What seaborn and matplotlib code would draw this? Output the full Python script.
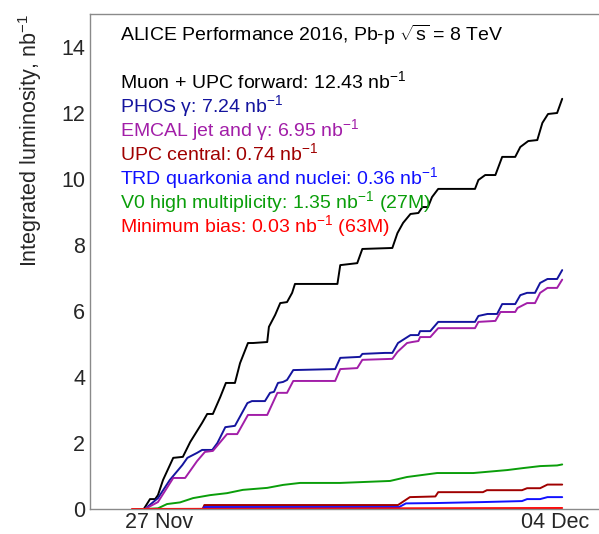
import pandas as pd
import matplotlib
matplotlib.use("Agg")
import matplotlib.pyplot as plt
import matplotlib.dates as mdates
from matplotlib.ticker import MultipleLocator
import seaborn as sns

# start of the x axis (27 Nov 2016, 00:00); times below are in days after it
start = pd.Timestamp("2016-11-27")

# Muon + UPC forward
muon_days = [-0.27, -0.16, -0.07, -0.02, 0.07, 0.25, 0.42, 0.55, 0.76, 0.85, 0.95, 1.08, 1.18,
             1.34, 1.43, 1.57, 1.66, 1.91, 1.94, 2.05, 2.14, 2.26, 2.35, 2.40, 3.15, 3.20, 3.50,
             3.59, 4.12, 4.21, 4.31, 4.44, 4.58, 4.65, 4.75, 4.82, 4.93, 5.58, 5.64, 5.76, 5.94,
             6.06, 6.29, 6.38, 6.52, 6.68, 6.77, 6.87, 7.03, 7.12]
muon_lumi = [0.00, 0.30, 0.30, 0.42, 0.88, 1.55, 1.58, 2.03, 2.61, 2.88, 2.88, 3.39, 3.82,
             3.82, 4.42, 5.03, 5.03, 5.06, 5.52, 5.88, 6.24, 6.27, 6.55, 6.82, 6.82, 7.39, 7.45,
             7.88, 7.91, 8.36, 8.67, 8.94, 8.97, 9.15, 9.15, 9.45, 9.70, 9.70, 9.97, 10.12, 10.12,
             10.67, 10.67, 10.97, 11.15, 11.18, 11.70, 11.97, 12.00, 12.43]

# PHOS gamma
phos_days = [-0.25, -0.02, 0.19, 0.41, 0.50, 0.67, 0.76, 0.94, 1.03, 1.17, 1.34, 1.56, 1.64,
             1.87, 1.96, 2.03, 2.10, 2.19, 2.26, 2.37, 3.11, 3.20, 3.55, 3.59, 3.99, 4.12, 4.22,
             4.44, 4.58, 4.61, 4.79, 4.93, 5.58, 5.64, 5.80, 5.97, 6.06, 6.29, 6.38, 6.50, 6.64,
             6.73, 6.86, 7.03, 7.12]
phos_lumi = [0.00, 0.33, 0.88, 1.33, 1.55, 1.70, 1.79, 1.79, 2.00, 2.48, 2.52, 3.21, 3.27,
             3.27, 3.52, 3.55, 3.82, 3.85, 3.91, 4.21, 4.24, 4.58, 4.61, 4.70, 4.73, 4.73, 5.03,
             5.27, 5.27, 5.39, 5.39, 5.67, 5.67, 5.85, 5.91, 5.91, 6.21, 6.21, 6.48, 6.55, 6.55,
             6.85, 6.97, 6.97, 7.24]

# EMCAL jet and gamma
emcal_days = [-0.25, -0.02, 0.25, 0.46, 0.67, 0.81, 0.95, 1.20, 1.38, 1.57, 1.91, 2.09, 2.26,
              2.37, 3.11, 3.20, 3.50, 3.59, 4.12, 4.21, 4.38, 4.47, 4.58, 4.61, 4.79, 4.93, 5.58,
              5.64, 5.94, 6.03, 6.29, 6.33, 6.50, 6.64, 6.73, 6.86, 7.03, 7.12]
emcal_lumi = [0.00, 0.21, 0.94, 0.94, 1.45, 1.73, 1.76, 2.27, 2.27, 2.85, 2.85, 3.52, 3.52,
              3.88, 3.88, 4.24, 4.27, 4.52, 4.55, 4.76, 5.03, 5.06, 5.09, 5.21, 5.21, 5.48, 5.48,
              5.67, 5.70, 5.97, 5.97, 6.09, 6.24, 6.24, 6.55, 6.70, 6.70, 6.95]

# UPC central
upc_days = [-0.25, 0.77, 0.80, 4.22, 4.43, 4.88, 4.93, 5.72, 5.79, 6.41, 6.50, 6.73, 6.86, 7.12]
upc_lumi = [0.00, 0.00, 0.12, 0.12, 0.36, 0.38, 0.51, 0.51, 0.57, 0.57, 0.63, 0.63, 0.74, 0.74]

# TRD quarkonia and nuclei
trd_days = [-0.25, 0.77, 0.80, 4.24, 4.36, 4.88, 5.72, 6.41, 6.50, 6.73, 6.86, 7.12]
trd_lumi = [0.00, 0.00, 0.06, 0.06, 0.17, 0.18, 0.21, 0.24, 0.30, 0.30, 0.36, 0.36]

# V0 high multiplicity
v0_days = [-0.25, -0.02, 0.14, 0.37, 0.60, 0.90, 1.20, 1.48, 1.91, 2.19, 2.49, 3.20, 4.08,
           4.38, 4.91, 5.55, 6.15, 6.43, 6.73, 7.03, 7.12]
v0_lumi = [0.00, 0.02, 0.15, 0.20, 0.33, 0.42, 0.48, 0.58, 0.64, 0.73, 0.79, 0.79, 0.85,
           0.97, 1.09, 1.09, 1.18, 1.24, 1.30, 1.32, 1.35]

# Minimum bias
mb_days = [-0.48, 2.0, 4.0, 7.12]
mb_lumi = [0.00, 0.01, 0.02, 0.03]

triggers = ["Muon + UPC forward", "PHOS", "EMCAL", "UPC central", "TRD", "V0 HM", "Minimum bias"]
labels = [
    "Muon + UPC forward: 12.43 nb$^{-1}$",
    "PHOS γ: 7.24 nb$^{-1}$",
    "EMCAL jet and γ: 6.95 nb$^{-1}$",
    "UPC central: 0.74 nb$^{-1}$",
    "TRD quarkonia and nuclei: 0.36 nb$^{-1}$",
    "V0 high multiplicity: 1.35 nb$^{-1}$ (27M)",
    "Minimum bias: 0.03 nb$^{-1}$ (63M)",
]
colors = ["#000000", "#14149e", "#a21ea8", "#a00000", "#1010ff", "#0a9e0a", "#ff0000"]

series = [(muon_days, muon_lumi), (phos_days, phos_lumi), (emcal_days, emcal_lumi),
          (upc_days, upc_lumi), (trd_days, trd_lumi), (v0_days, v0_lumi), (mb_days, mb_lumi)]

frames = []
for name, (d, l) in zip(triggers, series):
    frames.append(pd.DataFrame({
        "time": start + pd.to_timedelta(d, unit="D"),
        "lumi": l,
        "trigger": name,
    }))
df = pd.concat(frames, ignore_index=True)

sns.set_style("white")
plt.rcParams["font.family"] = ["Liberation Sans", "DejaVu Sans"]
plt.rcParams["mathtext.fontset"] = "custom"
plt.rcParams["mathtext.rm"] = "Liberation Sans"
plt.rcParams["mathtext.it"] = "Liberation Sans:italic"
plt.rcParams["mathtext.bf"] = "Liberation Sans:bold"

fig = plt.figure(figsize=(5.99, 5.34), dpi=100)
ax = fig.add_axes([90 / 599, 25 / 534, 509 / 599, 495 / 534])

sns.lineplot(data=df, x="time", y="lumi", hue="trigger", hue_order=triggers,
             palette=dict(zip(triggers, colors)), estimator=None, sort=False,
             linewidth=1.4, legend=False, ax=ax)

ax.set_xlim(start + pd.Timedelta(days=-1.22), start + pd.Timedelta(days=7.77))
ax.set_ylim(0, 15)

axis_grey = "#8a8a8a"
for side in ["left", "bottom", "top"]:
    ax.spines[side].set_color(axis_grey)
    ax.spines[side].set_linewidth(1.0)
ax.spines["right"].set_visible(False)

ax.yaxis.set_major_locator(MultipleLocator(2))
ax.yaxis.set_minor_locator(MultipleLocator(0.5))
ax.tick_params(axis="y", which="major", direction="in", length=12, width=1.0,
               color=axis_grey, labelsize=15.5, pad=3.5)
ax.tick_params(axis="y", which="minor", direction="in", length=6, width=1.0, color=axis_grey)

ax.set_xticks([start, start + pd.Timedelta(days=7)])
ax.xaxis.set_major_formatter(mdates.DateFormatter("%d %b"))
ax.tick_params(axis="x", which="major", direction="in", length=7, width=1.0,
               color=axis_grey, labelsize=15.5, pad=2)
ax.tick_params(axis="x", which="minor", length=0)

ax.set_xlabel("")
ax.set_ylabel("Integrated luminosity, nb$^{-1}$", fontsize=15.5, loc="top")
ax.yaxis.set_label_coords(-0.090, 1.0)

ax.text(0.059, 0.9455, r"ALICE Performance 2016, Pb-p $\sqrt{\mathrm{s}}$ = 8 TeV",
        transform=ax.transAxes, fontsize=14, color="black")
label_y = [0.8505, 0.802, 0.7535, 0.705, 0.6566, 0.6081, 0.5596]
for lab, col, yy in zip(labels, colors, label_y):
    ax.text(0.059, yy, lab, transform=ax.transAxes, fontsize=14, color=col)

fig.savefig("out.png", dpi=100)
